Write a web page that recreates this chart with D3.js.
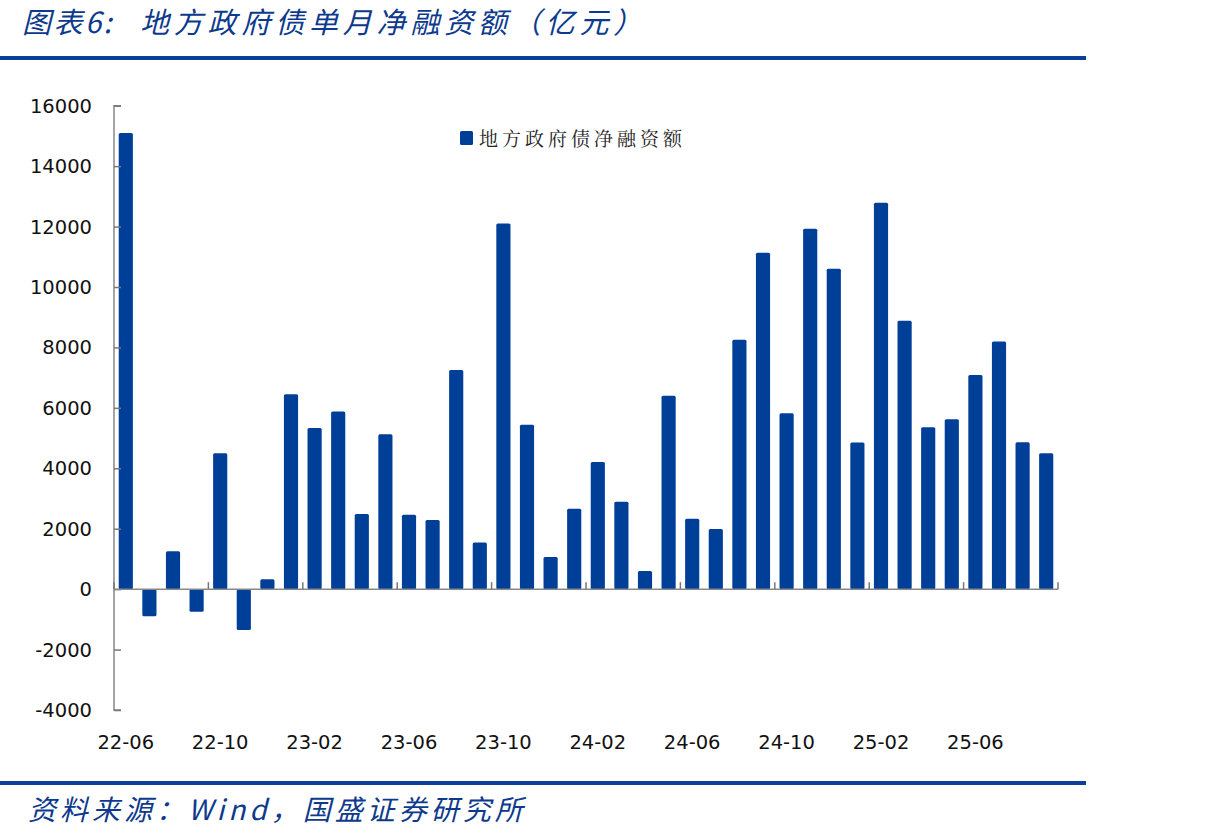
<!DOCTYPE html>
<html><head><meta charset="utf-8">
<script src="https://cdn.jsdelivr.net/npm/d3@7/dist/d3.min.js"></script>
<style>body{margin:0;background:#fff}</style>
</head><body>
<svg id="c" width="1205" height="839"></svg>
<script>
const months = ["22-06","22-07","22-08","22-09","22-10","22-11","22-12",
"23-01","23-02","23-03","23-04","23-05","23-06","23-07","23-08","23-09","23-10","23-11","23-12",
"24-01","24-02","24-03","24-04","24-05","24-06","24-07","24-08","24-09","24-10","24-11","24-12",
"25-01","25-02","25-03","25-04","25-05","25-06","25-07","25-08","25-09"];
const netFinancing = [15100,-900,1250,-750,4500,-1350,330,
6450,5330,5880,2490,5130,2460,2290,7250,1540,12100,5440,1060,
2660,4210,2890,600,6400,2330,1990,8250,11130,5820,11930,10600,
4850,12790,8880,5360,5620,7090,8200,4860,4500];
const yTicks = [-4000,-2000,0,2000,4000,6000,8000,10000,12000,14000,16000];
const xLabelMonths = ["22-06","22-10","23-02","23-06","23-10","24-02","24-06","24-10","25-02","25-06"];
const seriesName = "地方政府债净融资额";
const titlePrefix = "图表6:";
const titleMain = "地方政府债单月净融资额（亿元）";
const sourceText = "资料来源：Wind，国盛证券研究所";

const svg = d3.select("#c");
const blue = "#003f98";
const pLeft = 114, pRight = 1058, pTop = 105.7, pBottom = 710;
const x = d3.scaleBand().domain(months).range([pLeft, pRight]).paddingInner(0.4).paddingOuter(0.2);
const y = d3.scaleLinear().domain([-4000, 16000]).range([pBottom, pTop]);

// title
const title = svg.append("text").attr("x", 22).attr("y", 33).attr("fill", "#0d3a8c")
  .attr("font-family", "'Noto Sans CJK SC'").attr("font-style", "italic")
  .attr("font-size", 29);
title.append("tspan").attr("letter-spacing", 2.5).text(titlePrefix);
title.append("tspan").attr("x", 140).attr("letter-spacing", 4.8).text(titleMain);
svg.append("rect").attr("x", 0).attr("y", 56).attr("width", 1086).attr("height", 4).attr("fill", "#0a3f9a");
svg.append("rect").attr("x", 0).attr("y", 781).attr("width", 1086).attr("height", 4).attr("fill", "#0a3f9a");
svg.append("text").attr("x", 28).attr("y", 820).attr("fill", "#0d3a8c")
  .attr("font-family", "'Noto Sans CJK SC'").attr("font-style", "italic")
  .attr("font-size", 28).attr("letter-spacing", 4).text(sourceText);

// bars
svg.append("g").selectAll("rect").data(months).join("rect")
  .attr("x", (d) => x(d))
  .attr("width", x.bandwidth())
  .attr("y", (d, i) => y(Math.max(0, netFinancing[i])))
  .attr("height", (d, i) => Math.abs(y(netFinancing[i]) - y(0)))
  .attr("rx", 1.5)
  .attr("fill", blue);

// y axis
const yAxis = d3.axisRight(y).tickValues(yTicks).tickSize(7).tickFormat("");
const gy = svg.append("g").attr("transform", `translate(${pLeft},0)`).call(yAxis);
gy.select(".domain").attr("stroke", "#888").attr("stroke-width", 1.5).attr("d", `M7,${pTop}H0V${pBottom}H7`);
gy.selectAll(".tick line").attr("stroke", "#777").attr("stroke-width", 1.5);
svg.append("g").selectAll("text").data(yTicks).join("text")
  .attr("x", 92).attr("y", (d) => y(d) + 7)
  .attr("text-anchor", "end").attr("font-family", "'DejaVu Sans'").attr("font-size", 19.5)
  .attr("fill", "#111").text((d) => d);

// x axis (zero line)
const step = x.step();
const boundaryTicks = xLabelMonths.map((m) => x(m) - x.paddingInner() * step / 2).concat([pRight]);
const gx = svg.append("g");
gx.append("line").attr("x1", pLeft).attr("x2", pRight).attr("y1", y(0)).attr("y2", y(0))
  .attr("stroke", "#888").attr("stroke-width", 1.5);
gx.selectAll("line.t").data(boundaryTicks).join("line").attr("class", "t")
  .attr("x1", (d) => d).attr("x2", (d) => d).attr("y1", y(0)).attr("y2", y(0) - 7)
  .attr("stroke", "#777").attr("stroke-width", 1.5);
svg.append("g").selectAll("text").data(xLabelMonths).join("text")
  .attr("x", (d) => x(d) + x.bandwidth() / 2).attr("y", 749)
  .attr("text-anchor", "middle").attr("font-family", "'DejaVu Sans'").attr("font-size", 19.5)
  .attr("fill", "#111").text((d) => d);

// legend
svg.append("rect").attr("x", 460).attr("y", 131).attr("width", 13).attr("height", 14).attr("rx", 1.5).attr("fill", blue);
svg.append("text").attr("x", 479).attr("y", 146).attr("font-family", "'Noto Serif CJK SC','Noto Sans CJK SC'")
  .attr("font-size", 19).attr("letter-spacing", 4).attr("fill", "#222").text(seriesName);
</script>
</body></html>
